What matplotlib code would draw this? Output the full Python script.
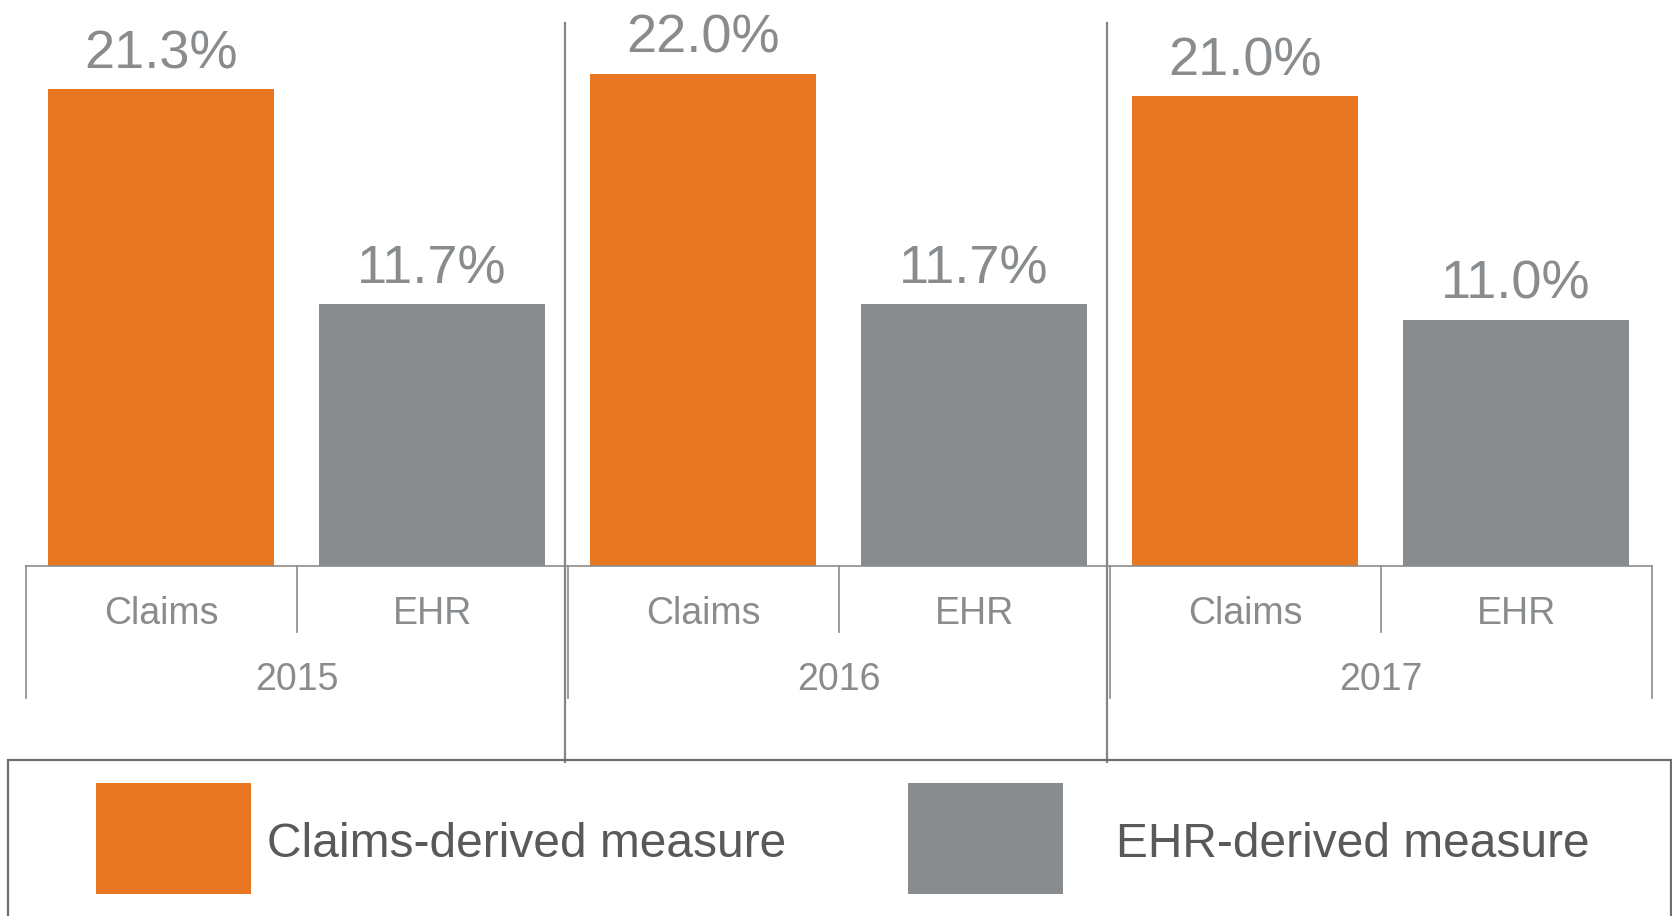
import matplotlib
matplotlib.use("Agg")
import matplotlib.pyplot as plt
from matplotlib.patches import Rectangle
from matplotlib.lines import Line2D

# ---- data ----
years = ["2015", "2016", "2017"]
measures = ["Claims", "EHR"]
claims_values = [21.3, 22.0, 21.0]
ehr_values = [11.7, 11.7, 11.0]
series_labels = ["Claims-derived measure", "EHR-derived measure"]

ORANGE = "#E87722"
GRAY = "#898C8E"
TXT = "#898C8E"
DARK = "#58595B"
LINE = "#8C8C8C"

plt.rcParams["font.family"] = ["Liberation Sans", "DejaVu Sans"]

W, H = 1672, 916
fig = plt.figure(figsize=(W / 100, H / 100), dpi=100)
# axes: baseline at y=566px, x from 25.5px to 1651.5px
ax = fig.add_axes([25.5 / W, (H - 566) / H, 1626 / W, 566 / H])

n_groups = len(years)
x_claims = [g * 2 for g in range(n_groups)]
x_ehr = [g * 2 + 1 for g in range(n_groups)]
bw = 0.834

bars_c = ax.bar(x_claims, claims_values, width=bw, color=ORANGE, label=series_labels[0])
bars_e = ax.bar(x_ehr, ehr_values, width=bw, color=GRAY, label=series_labels[1])

ax.set_xlim(-0.5, 2 * n_groups - 0.5)
ax.set_ylim(0, 566 / 22.38)

for xs, vals in ((x_claims, claims_values), (x_ehr, ehr_values)):
    for x, v in zip(xs, vals):
        ax.annotate(f"{v:.1f}%", (x, v), xytext=(0, 15), textcoords="offset points",
                    ha="center", va="baseline", fontsize=39, color=TXT)

# spines / ticks
for s in ("top", "right", "left"):
    ax.spines[s].set_visible(False)
ax.spines["bottom"].set_color(LINE)
ax.spines["bottom"].set_linewidth(1.2)
ax.set_xticks([])
ax.set_yticks([])

xt = ax.get_xaxis_transform()
# category labels
for g in range(n_groups):
    for m, name in enumerate(measures):
        ax.text(g * 2 + m, -0.1025, name, transform=xt, ha="center", va="baseline",
                fontsize=27, color=TXT)
    ax.text(g * 2 + 0.5, -0.2191, years[g], transform=xt, ha="center", va="baseline",
            fontsize=27, color=TXT)

# category separators
for g in range(n_groups + 1):
    ax.add_line(Line2D([g * 2 - 0.5] * 2, [0, -0.2332], transform=xt, color=LINE,
                       lw=1.2, clip_on=False))
for g in range(n_groups):
    ax.add_line(Line2D([g * 2 + 0.5] * 2, [0, -0.1166], transform=xt, color=LINE,
                       lw=1.2, clip_on=False))
# long group dividers
for g in range(1, n_groups):
    xd = g * 2 - 0.5 - 0.011
    ax.add_line(Line2D([xd, xd], [0.9585, -0.3463], transform=xt, color="#858585",
                       lw=1.6, clip_on=False))

# ---- legend (manual) ----
fig.add_artist(Rectangle((7.5 / W, -0.02), (1670.5 - 7.5) / W, (H - 760) / H + 0.02,
                         transform=fig.transFigure, fill=False, edgecolor="#6E6E6E",
                         lw=1.6, clip_on=False))
leg_items = [(ORANGE, series_labels[0], 96, 267), (GRAY, series_labels[1], 908, 1116)]
for col, lab, sx, tx in leg_items:
    fig.add_artist(Rectangle((sx / W, (H - 894) / H), 155 / W, 111 / H,
                             transform=fig.transFigure, facecolor=col, edgecolor="none"))
    fig.text(tx / W, (H - 856.7) / H, lab, ha="left", va="baseline", fontsize=34.5, color=DARK)

fig.savefig("out.png", dpi=100, facecolor="white")
